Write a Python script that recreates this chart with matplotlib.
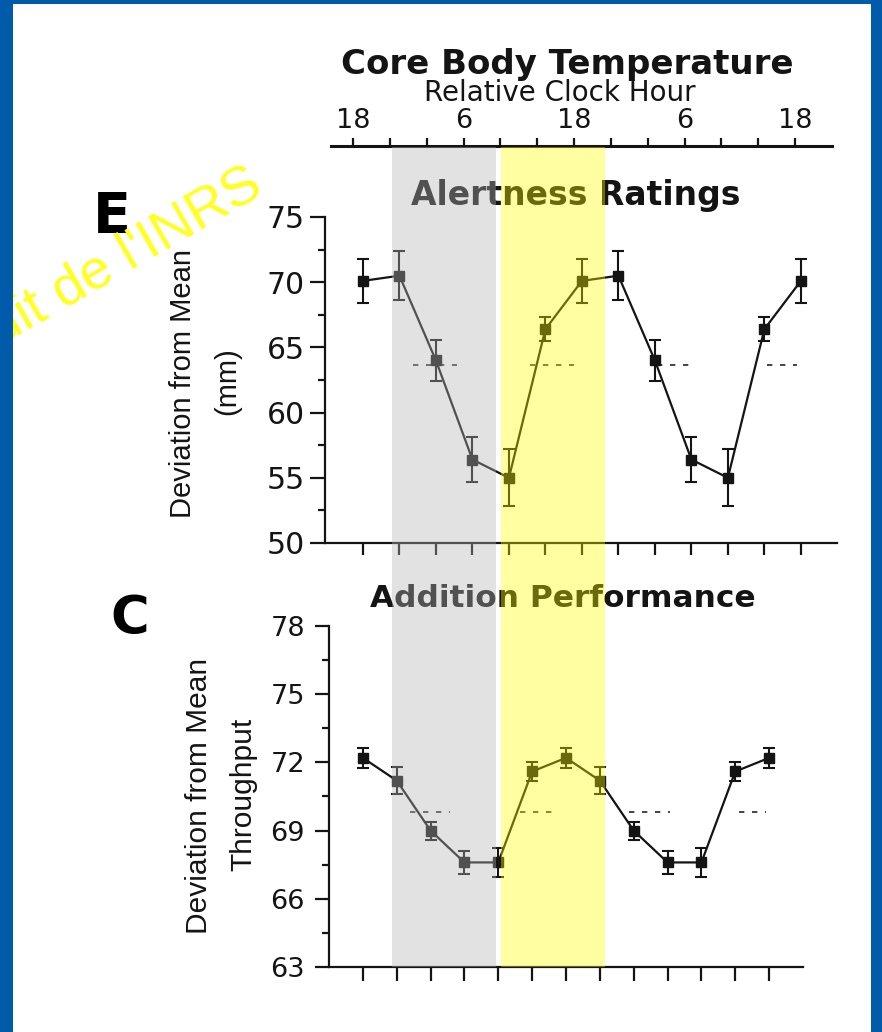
import numpy as np
import matplotlib
matplotlib.use("Agg")
import matplotlib.pyplot as plt
from matplotlib.patches import Rectangle
from matplotlib.transforms import blended_transform_factory
from matplotlib.ticker import MultipleLocator

# ---- data -------------------------------------------------------------
# Relative clock hour of each 4-h bin (double-plotted over 48 h)
CLOCK_HOURS = [18, 22, 2, 6, 10, 14, 18, 22, 2, 6, 10, 14, 18]
LABELLED_HOURS = (6, 18)

# Alertness ratings (deviation from mean, mm) with SEM
ALERT_MEAN = [70.1, 70.5, 64.0, 56.4, 55.0, 66.4, 70.1, 70.5, 64.0, 56.4, 55.0, 66.4, 70.1]
ALERT_SEM = [1.7, 1.9, 1.6, 1.7, 2.2, 0.9, 1.7, 1.9, 1.6, 1.7, 2.2, 0.9, 1.7]
ALERT_REF = 63.65
ALERT_REF_SPANS = [(5.5, 10.3), (18.3, 23.1), (32.2, 36.4), (44.3, 47.6)]

# Addition performance (deviation from mean throughput) with SEM
ADD_MEAN = [72.2, 71.2, 69.0, 67.6, 67.6, 71.6, 72.2, 71.2, 69.0, 67.6, 67.6, 71.6, 72.2]
ADD_SEM = [0.45, 0.6, 0.4, 0.5, 0.65, 0.4, 0.45, 0.6, 0.4, 0.5, 0.65, 0.4, 0.45]
ADD_REF = 69.8
ADD_REF_SPANS = [(5.6, 10.3), (18.6, 23.1), (31.5, 36.3), (44.4, 47.6)]

# Shaded episodes, in elapsed hours from the first 18 h bin
NIGHT_BAND = (4.2, 15.5)
DAY_BAND = (16.1, 27.4)

# ---- layout helpers (pixel based) -------------------------------------
W, H = 882, 1032
DPI = 100
plt.rcParams['font.family'] = ['DejaVu Sans']
INK = '#141414'

fig = plt.figure(figsize=(W / DPI, H / DPI), dpi=DPI, facecolor='white')


def px_rect(left, top, right, bottom):
    return [left / W, 1 - bottom / H, (right - left) / W, (bottom - top) / H]


def fx(x):
    return x / W


def fy(y):
    return 1 - y / H


elapsed = np.arange(len(CLOCK_HOURS)) * 4.0

# ---- top time axis ----------------------------------------------------
axT = fig.add_axes(px_rect(331, 146, 832, 146.05))
axT.patch.set_visible(False)
for side in ('left', 'right', 'bottom'):
    axT.spines[side].set_visible(False)
axT.spines['top'].set_linewidth(2.2)
axT.spines['top'].set_color(INK)
axT.set_xlim(-2.39, 52.0)
axT.set_yticks([])
axT.xaxis.tick_top()
axT.set_xticks(elapsed)
axT.set_xticklabels([str(h) if h in LABELLED_HOURS else '' for h in CLOCK_HOURS])
axT.tick_params(axis='x', direction='out', length=6, width=1.6, pad=3.0,
                labelsize=19.5, colors=INK)

fig.text(fx(567), fy(74), 'Core Body Temperature', ha='center', va='baseline',
         fontsize=24.5, fontweight='bold', color=INK)
fig.text(fx(560), fy(101), 'Relative Clock Hour', ha='center', va='baseline',
         fontsize=20, color=INK)


def style_panel(ax, xlim, ylim, major, minor, ytick_len, ypad, ysize, xtick_len):
    ax.set_xlim(*xlim)
    ax.set_ylim(*ylim)
    for side in ('top', 'right'):
        ax.spines[side].set_visible(False)
    for side in ('left', 'bottom'):
        ax.spines[side].set_linewidth(1.6)
        ax.spines[side].set_color(INK)
    ax.yaxis.set_major_locator(MultipleLocator(major))
    ax.yaxis.set_minor_locator(MultipleLocator(minor))
    ax.set_xticks(elapsed)
    ax.set_xticklabels([])
    ax.tick_params(axis='y', which='major', direction='out', length=ytick_len,
                   width=1.6, pad=ypad, labelsize=ysize, colors=INK)
    ax.tick_params(axis='y', which='minor', direction='out', length=5,
                   width=1.6, colors=INK)
    ax.tick_params(axis='x', direction='out', length=xtick_len, width=1.6,
                   colors=INK)
    ax.patch.set_visible(False)


def draw_series(ax, mean, sem, ref, spans, capsize):
    ax.errorbar(elapsed, mean, yerr=sem, fmt='-s', color=INK, lw=1.6,
                ms=7, capsize=capsize, elinewidth=1.5, capthick=1.5,
                clip_on=False, zorder=3)
    for a, b in spans:
        ax.plot([a, b], [ref, ref], color=INK, lw=1.1, ls=(0, (3.5, 5)),
                zorder=2)


# ---- panel E: alertness -----------------------------------------------
axE = fig.add_axes(px_rect(325, 217, 837, 543))
style_panel(axE, (-4.16, 51.96), (50, 75), 5, 2.5, 10.8, 3.6, 21.5, 8.6)
draw_series(axE, ALERT_MEAN, ALERT_SEM, ALERT_REF, ALERT_REF_SPANS, 4)

fig.text(fx(576), fy(205), 'Alertness Ratings', ha='center', va='baseline',
         fontsize=23.8, fontweight='bold', color=INK)
fig.text(fx(93), fy(232), 'E', ha='left', va='baseline', fontsize=40,
         fontweight='bold', color='black')
fig.text(fx(183), fy(383), 'Deviation from Mean', rotation=90, ha='center',
         va='center', fontsize=21, family='Liberation Sans', color=INK)
fig.text(fx(227), fy(381), '(mm)', rotation=90, ha='center', va='center',
         fontsize=21, family='Liberation Sans', color=INK)

# ---- panel C: addition performance ------------------------------------
axC = fig.add_axes(px_rect(329, 626, 803, 967))
style_panel(axC, (-4.0, 52.0), (63, 78), 3, 1.5, 10, 7.2, 19.5, 10)
draw_series(axC, ADD_MEAN, ADD_SEM, ADD_REF, ADD_REF_SPANS, 4)

fig.text(fx(563), fy(607), 'Addition Performance', ha='center', va='baseline',
         fontsize=22.5, fontweight='bold', color=INK)
fig.text(fx(110), fy(634), 'C', ha='left', va='baseline', fontsize=38,
         fontweight='bold', color='black')
fig.text(fx(199), fy(796), 'Deviation from Mean', rotation=90, ha='center',
         va='center', fontsize=21.5, family='Liberation Sans', color=INK)
fig.text(fx(243), fy(794), 'Throughput', rotation=90, ha='center',
         va='center', fontsize=21.5, family='Liberation Sans', color=INK)

# ---- translucent episode bands over both panels -----------------------
band_tr = blended_transform_factory(axT.transData, fig.transFigure)
band_bottom = fy(967)
band_height = (967 - 147) / H
for (x0, x1), colour, alpha in ((NIGHT_BAND, (0.71, 0.71, 0.71), 0.38),
                                (DAY_BAND, (1.0, 1.0, 0.0), 0.37)):
    fig.add_artist(Rectangle((x0, band_bottom), x1 - x0, band_height,
                             transform=band_tr, facecolor=colour, alpha=alpha,
                             linewidth=0, zorder=5))

# ---- watermark and slide frame ----------------------------------------
fig.text(fx(265), fy(193), "Produit de l'INRS", rotation=30,
         rotation_mode='anchor', ha='right', va='baseline', fontsize=40,
         family='Liberation Sans', color='#FFFF22', zorder=6)

FRAME = '#005CAA'
for l, t, r, b in ((0, 0, 13, H), (0, 0, W, 4), (871, 0, W, H)):
    fig.add_artist(Rectangle((fx(l), fy(b)), (r - l) / W, (b - t) / H,
                             transform=fig.transFigure, facecolor=FRAME,
                             linewidth=0, zorder=10))

fig.savefig('out.png', dpi=DPI, facecolor='white')
